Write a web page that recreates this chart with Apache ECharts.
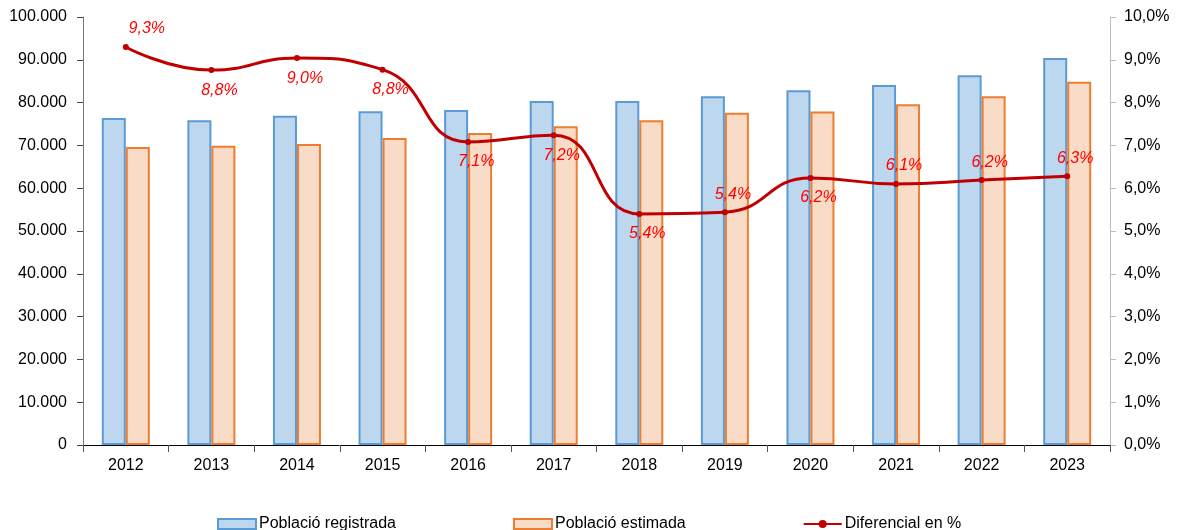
<!DOCTYPE html>
<html>
<head>
<meta charset="utf-8">
<script src="https://cdn.jsdelivr.net/npm/echarts@6/dist/echarts.min.js"></script>
<style>
  html, body { margin: 0; padding: 0; background: #fff; }
  #chart { width: 1182px; height: 530px; }
</style>
</head>
<body>
<div id="chart"></div>
<script>
// dades
var years = ['2012', '2013', '2014', '2015', '2016', '2017', '2018', '2019', '2020', '2021', '2022', '2023'];
var registrada = [76400, 75900, 76900, 78000, 78300, 80400, 80400, 81500, 82900, 84100, 86400, 90400];
var estimada = [69600, 69900, 70300, 71700, 72900, 74500, 75900, 77600, 77900, 79600, 81500, 84900];
var diferencial = [9.3, 8.76, 9.04, 8.77, 7.08, 7.24, 5.4, 5.44, 6.24, 6.1, 6.19, 6.28];

// on va cada etiqueta (dalt/baix del punt)
var labelAbove = [true, false, false, false, false, false, false, true, false, true, true, true];

var FONT = 'Liberation Sans, Arial, sans-serif';

function thousands(v) {
  return String(v).replace(/\B(?=(\d{3})+(?!\d))/g, '.');
}
function pct(v) {
  return v.toFixed(1).replace('.', ',') + '%';
}

var lineData = diferencial.map(function (v, i) {
  var up = labelAbove[i];
  var dx = i === 0 ? 21 : 8;
  return {
    value: v,
    label: { offset: [dx, up ? -18 : 20] }
  };
});

var myChart = echarts.init(document.getElementById('chart'));
myChart.setOption({
  animation: false,
  grid: { left: 83, right: 72, top: 17, bottom: 85 },
  legend: {
    top: 511,
    left: 212,
    itemGap: 117,
    itemWidth: 38,
    itemHeight: 10,
    textStyle: { fontFamily: 'Liberation Sans Narrow, Arial Narrow, sans-serif', fontSize: 16, color: '#000', padding: [0, 0, 0, -2] },
    data: [
      { name: 'Població registrada', icon: 'rect' },
      { name: 'Població estimada', icon: 'rect' },
      { name: 'Diferencial en %' }
    ]
  },
  xAxis: {
    type: 'category',
    data: years,
    axisLine: { lineStyle: { color: '#000', width: 1 } },
    axisTick: { show: true, length: 7, lineStyle: { color: '#555' } },
    axisLabel: { color: '#000', fontFamily: FONT, fontSize: 16, margin: 13 }
  },
  yAxis: [
    {
      type: 'value',
      min: 0, max: 100000, interval: 10000,
      axisLine: { show: true, lineStyle: { color: '#777' } },
      axisTick: { show: true, length: 6, lineStyle: { color: '#444' } },
      splitLine: { show: false },
      axisLabel: { color: '#000', fontFamily: FONT, fontSize: 16, margin: 16, formatter: thousands }
    },
    {
      type: 'value',
      min: 0, max: 10, interval: 1,
      axisLine: { show: true, lineStyle: { color: '#bbb' } },
      axisTick: { show: true, length: 6, lineStyle: { color: '#bbb' } },
      splitLine: { show: false },
      axisLabel: { color: '#000', fontFamily: FONT, fontSize: 16, margin: 14, formatter: function (v) { return pct(v); } }
    }
  ],
  series: [
    {
      name: 'Població registrada',
      type: 'bar',
      data: registrada,
      barWidth: 24,
      barGap: '0%',
      itemStyle: { color: '#bdd7ee', borderColor: '#5b9bd5', borderWidth: 2 }
    },
    {
      name: 'Població estimada',
      type: 'bar',
      data: estimada,
      barWidth: 24,
      barGap: '0%',
      itemStyle: { color: '#f9dcc8', borderColor: '#ed7d31', borderWidth: 2 }
    },
    {
      name: 'Diferencial en %',
      type: 'line',
      yAxisIndex: 1,
      smooth: 0.5,
      symbol: 'circle',
      symbolSize: 6,
      z: 5,
      lineStyle: { color: '#c00000', width: 3 },
      itemStyle: { color: '#c00000' },
      label: {
        show: true,
        position: 'inside',
        color: '#ff0000',
        fontStyle: 'italic',
        fontFamily: FONT,
        fontSize: 16,
        formatter: function (p) { return pct(p.value); }
      },
      data: lineData
    }
  ]
});
</script>
</body>
</html>
